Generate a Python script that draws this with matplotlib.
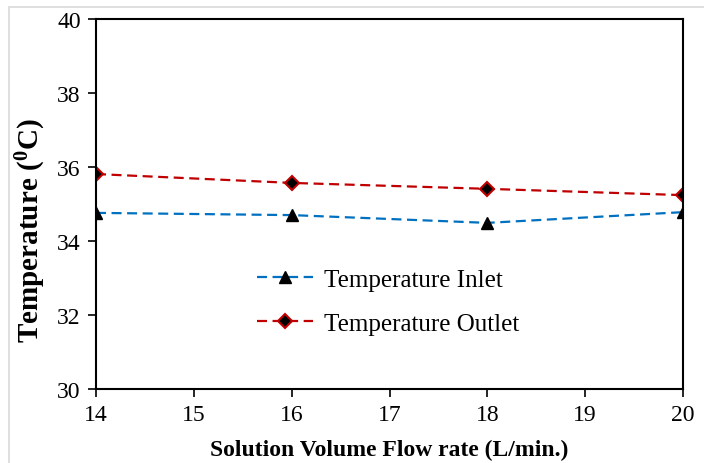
import matplotlib
matplotlib.use("Agg")
import matplotlib.pyplot as plt
from matplotlib.patches import Rectangle

flow = [14, 16, 18, 20]
temp_inlet = [34.76, 34.70, 34.49, 34.78]
temp_outlet = [35.81, 35.57, 35.41, 35.24]

plt.rcParams['font.family'] = ['Liberation Serif', 'DejaVu Serif']

fig = plt.figure(figsize=(7.04, 4.64), dpi=100)
ax = fig.add_axes([96/704, 1-390/464, (683-96)/704, (390-20)/464])

ax.plot(flow, temp_inlet, linestyle=(0, (4.5, 2.5)), color='#0070C0', lw=1.6,
        marker='^', markersize=8, markerfacecolor='black', markeredgecolor='black',
        label='Temperature Inlet')
ax.plot(flow, temp_outlet, linestyle=(0, (4.5, 2.5)), color='#C00000', lw=1.6,
        marker='D', markersize=7, markerfacecolor='black', markeredgecolor='#C00000',
        markeredgewidth=1.5, label='Temperature Outlet')

ax.set_xlim(14, 20)
ax.set_ylim(30, 40)
ax.set_xticks(range(14, 21))
ax.set_yticks(range(30, 41, 2))
ax.tick_params(direction='out', length=6, width=1.2, labelsize=17, colors='black', pad=5)
for s in ax.spines.values():
    s.set_linewidth(1.5)
    s.set_color('black')

ax.set_xlabel('Solution Volume Flow rate (L/min.)', fontsize=17, fontweight='bold', labelpad=10)
ax.set_ylabel('Temperature ($\\mathregular{^{0}}$C)', fontsize=21, fontweight='bold')
ax.yaxis.set_label_coords(-0.082, 0.43)

ax.legend(loc='center left', bbox_to_anchor=(0.236, 0.2365), frameon=False, fontsize=18,
          handlelength=2.24, handletextpad=0.44, labelspacing=0.86)

fig.patches.append(Rectangle((9/704, -0.01), 1.0, 1 - 8/464 + 0.01, transform=fig.transFigure,
                             fill=False, edgecolor='#d9d9d9', lw=1.2))

fig.savefig('out.png', dpi=100)
